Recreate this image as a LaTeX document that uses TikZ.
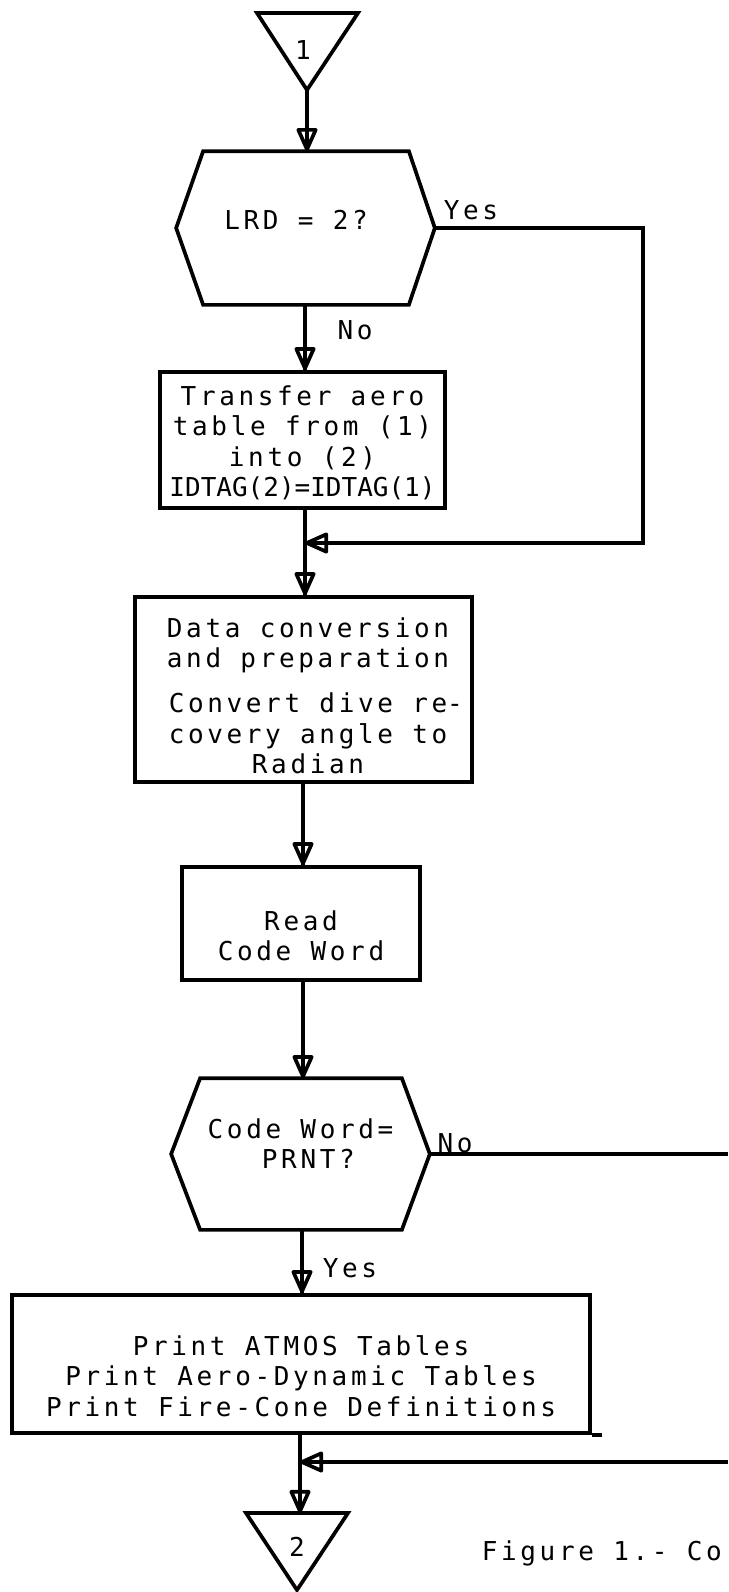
\documentclass[tikz,border=0pt]{standalone}
\usepackage{fontspec}
\newfontfamily\tw[LetterSpace=14]{DejaVu Sans Mono}
\newfontfamily\twn{DejaVu Sans Mono}
\usetikzlibrary{arrows.meta,decorations.markings}
\begin{document}
\begin{tikzpicture}[x=1pt,y=-1pt,line width=3.7pt,
  shapebox/.style={draw,line width=3.7pt,inner sep=0pt,rectangle},
  hexbody/.style={inner sep=0pt,rectangle},
  txt/.style={inner sep=0pt,align=center,font=\tw\fontsize{26}{30.5}\selectfont,anchor=north},
  flow/.style={postaction={decorate},decoration={markings,
    mark=at position 1 with {\arrow{Triangle[open,round,length=26pt,width=22pt]}}}}]
\useasboundingbox (0,0) rectangle (728,1592);
% column coordinates
\coordinate (s1) at (306,0);
\coordinate (s2) at (303,0);
\coordinate (s3) at (302,0);
% start connector
\draw (257,13) -- (358,13) -- (307,90) -- cycle;
\coordinate (t1a) at (307,90);
\node[txt] (t1) at (303,38.5) {1};
% decision 1
\node[hexbody,minimum width=202pt,minimum height=150pt] (h1) at (306,228) {};
\draw (h1.north west) -- (h1.north east) -- ([xshift=26pt]h1.east) coordinate (h1r)
  -- (h1.south east) -- (h1.south west) -- ([xshift=-27pt]h1.west) -- cycle;
\node[txt] (h1t) at (296,208.5) {LRD = 2?};
\draw[flow] (t1a) -- (t1a |- h1.north);
\node[txt] (yes1) at (471,198.5) {Yes};
\coordinate (c1) at (643,228);
\coordinate (j1) at (305,543);
\draw[flow] (h1r) -- (c1) |- (j1);
% box 1
\node[shapebox,minimum width=285pt,minimum height=136pt] (b1) at (302.5,440) {};
\node[txt] (b1t) at (302.5,383.5) {Transfer aero\\table from (1)\\into (2)\\{\twn IDTAG(2)=IDTAG(1)}};
\draw[flow] (j1 |- h1.south) -- (j1 |- b1.north);
\node[txt] (no1) at (355,318.5) {No};
% box 2
\node[shapebox,minimum width=337pt,minimum height=185pt] (b2) at (303.5,689.5) {};
\node[txt] (b2t) at (308,615.5) {Data conversion\\and preparation\\[14.5pt]Convert dive re\rlap{-}\\covery angle to\\Radian};
\draw[flow] (j1 |- b1.south) -- (j1 |- b2.north);
% box 3
\node[shapebox,minimum width=238pt,minimum height=113pt] (b3) at (301,923.5) {};
\node[txt] (b3t) at (301,908.5) {Read\\Code Word};
\draw[flow] (s2 |- b2.south) -- (s2 |- b3.north);
% decision 2
\node[hexbody,minimum width=198pt,minimum height=148pt] (h2) at (301,1154) {};
\draw (h2.north west) -- (h2.north east) -- ([xshift=28pt]h2.east) coordinate (h2r)
  -- (h2.south east) -- (h2.south west) -- ([xshift=-29pt]h2.west) -- cycle;
\node[txt] (h2t) at (300.5,1116.5) {Code Word=\\\phantom{x}PRNT?};
\draw[flow] (s2 |- b3.south) -- (s2 |- h2.north);
\node[txt] (no2) at (455,1131.5) {No};
\coordinate (e1) at (728,1155);
\draw (h2r) -- (h2r -| e1);
% box 4
\node[shapebox,minimum width=578pt,minimum height=138pt] (b4) at (301,1364) {};
\node[txt] (b4t) at (301,1333.5) {Print ATMOS Tables\\Print Aero-Dynamic Tables\\Print Fire-Cone Definitions};
\draw (b4.south east) -- ++(10,0);
\node[txt] (yes2) at (350,1256.5) {Yes};
\draw[flow] (s3 |- h2.south) -- (s3 |- b4.north);
% junction and end connector
\coordinate (j2) at (300,1462);
\coordinate (e2) at (728,1462);
\coordinate (t2top) at (300,1513);
\draw[flow] (j2 |- b4.south) -- (t2top);
\draw[flow] (e2) -- (j2);
\draw (246,1513) -- (348,1513) -- (297,1590) -- cycle;
\node[txt] (t2) at (297,1535.5) {2};
\node[txt,anchor=north west] (cap) at (480,1538.5) {Figure 1.- Co};
\end{tikzpicture}
\end{document}
